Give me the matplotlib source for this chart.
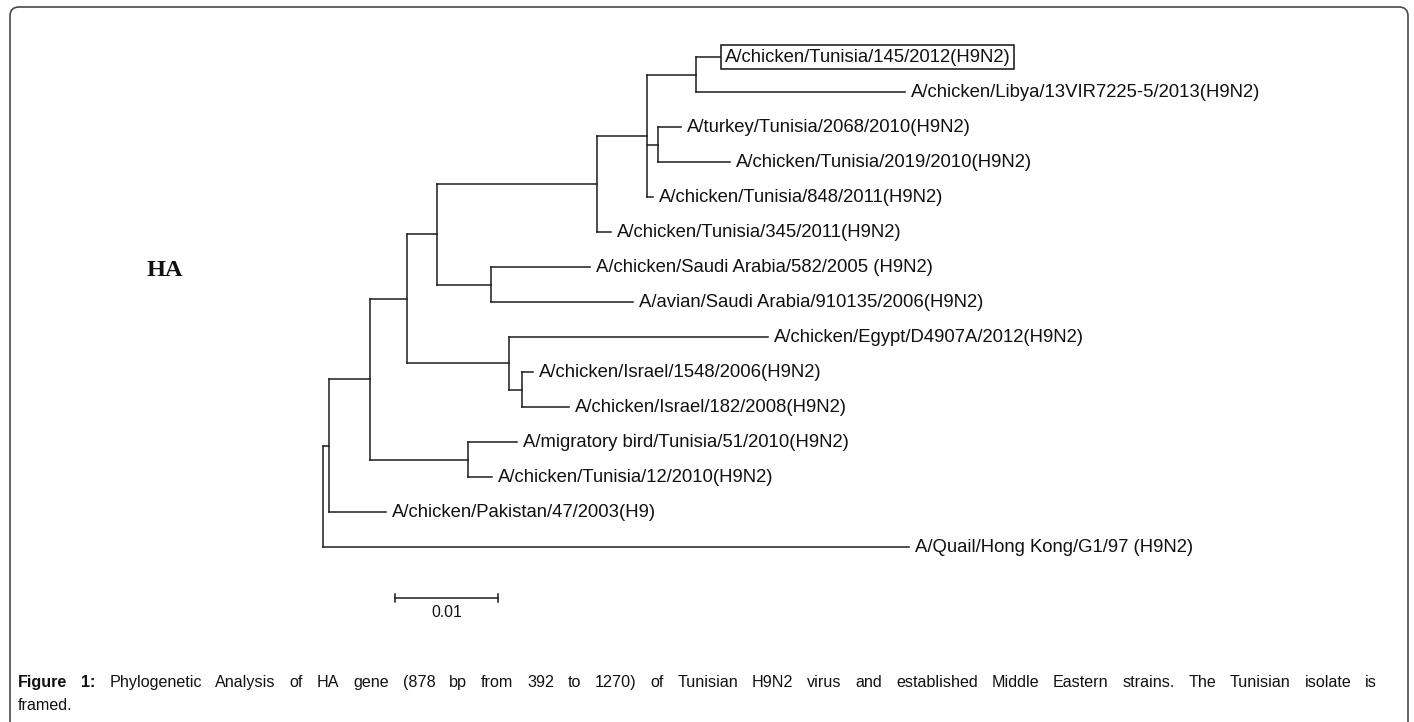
import matplotlib
matplotlib.use("Agg")
import matplotlib.pyplot as plt
from matplotlib.patches import FancyBboxPatch
from matplotlib.transforms import IdentityTransform
from matplotlib.collections import LineCollection

# ---------------- data ----------------
leaf_labels = [
    "A/chicken/Tunisia/145/2012(H9N2)",
    "A/chicken/Libya/13VIR7225-5/2013(H9N2)",
    "A/turkey/Tunisia/2068/2010(H9N2)",
    "A/chicken/Tunisia/2019/2010(H9N2)",
    "A/chicken/Tunisia/848/2011(H9N2)",
    "A/chicken/Tunisia/345/2011(H9N2)",
    "A/chicken/Saudi Arabia/582/2005 (H9N2)",
    "A/avian/Saudi Arabia/910135/2006(H9N2)",
    "A/chicken/Egypt/D4907A/2012(H9N2)",
    "A/chicken/Israel/1548/2006(H9N2)",
    "A/chicken/Israel/182/2008(H9N2)",
    "A/migratory bird/Tunisia/51/2010(H9N2)",
    "A/chicken/Tunisia/12/2010(H9N2)",
    "A/chicken/Pakistan/47/2003(H9)",
    "A/Quail/Hong Kong/G1/97 (H9N2)",
]
leaf_parent = ["N7", "N7", "N8", "N8", "N6", "N5", "Nsaudi", "Nsaudi",
               "Nisr", "Nisr2", "Nisr2", "Nmigr", "Nmigr", "N1", "root"]
leaf_branch = [0.00233, 0.02029, 0.00223, 0.00699, 0.00058, 0.00136, 0.00961,
               0.01379, 0.02515, 0.00107, 0.00456, 0.00476, 0.00233, 0.00553, 0.0569]

internal_nodes = ["N1", "N2", "N3", "N4", "N5", "N6", "N7", "N8",
                  "Nsaudi", "Nisr", "Nisr2", "Nmigr"]
internal_parent = ["root", "N1", "N2", "N3", "N4", "N5", "N6", "N6",
                   "N4", "N3", "Nisr", "N2"]
internal_branch = [0.00058, 0.00398, 0.00359, 0.00291, 0.01553, 0.00485,
                   0.00476, 0.00107, 0.00524, 0.0099, 0.00126, 0.00951]

framed_leaf = "A/chicken/Tunisia/145/2012(H9N2)"
scale_bar_length = 0.01
scale_bar_label = "0.01"
gene_label = "HA"
caption_bold = "Figure 1:"
caption_text = ("Phylogenetic Analysis of HA gene (878 bp from 392 to 1270) of Tunisian "
                "H9N2 virus and established Middle Eastern strains. The Tunisian isolate is")
caption_line2 = "framed."

# ---------------- layout ----------------
W, H = 1414, 722
PX_PER_UNIT = 10300.0
ROOT_PX = 323.0
ROW0 = 57.0
ROW_H = 35.0
LINE_COLOR = "#1c1c1c"
LW = 1.1
LABEL_FONT = "Liberation Sans"
LABEL_SIZE = 13.3

fig = plt.figure(figsize=(W / 100, H / 100), dpi=100)
fig.patch.set_facecolor("white")
ax = fig.add_axes([0, 0, 1, 1])
ax.axis("off")
ax.set_xlim(-ROOT_PX / PX_PER_UNIT, (W - ROOT_PX) / PX_PER_UNIT)
ax.set_ylim((H - ROW0) / ROW_H, -ROW0 / ROW_H)

# ---------------- tree geometry ----------------
parent = {}
blen = {}
for n, p, b in zip(leaf_labels, leaf_parent, leaf_branch):
    parent[n] = p
    blen[n] = b
for n, p, b in zip(internal_nodes, internal_parent, internal_branch):
    parent[n] = p
    blen[n] = b
children = {}
for n, p in parent.items():
    children.setdefault(p, []).append(n)

depth = {"root": 0.0}
def get_depth(n):
    if n not in depth:
        depth[n] = get_depth(parent[n]) + blen[n]
    return depth[n]
for n in parent:
    get_depth(n)

ypos = {lab: i for i, lab in enumerate(leaf_labels)}
def get_y(n):
    if n not in ypos:
        ys = [get_y(c) for c in children[n]]
        ypos[n] = (min(ys) + max(ys)) / 2.0
    return ypos[n]
get_y("root")

segs = []
for n, p in parent.items():
    segs.append([(depth[p], ypos[n]), (depth[n], ypos[n])])
for n, ch in children.items():
    ys = [ypos[c] for c in ch]
    segs.append([(depth[n], min(ys)), (depth[n], max(ys))])
ax.add_collection(LineCollection(segs, colors=LINE_COLOR, linewidths=LW,
                                 capstyle="projecting"))

# ---------------- leaf labels ----------------
for lab in leaf_labels:
    if lab == framed_leaf:
        ax.annotate(lab, (depth[lab], ypos[lab]), xytext=(3.4, 0),
                    textcoords="offset points", va="center", ha="left",
                    fontsize=LABEL_SIZE, family=LABEL_FONT, color="#111",
                    bbox=dict(boxstyle="square,pad=0.2", fc="none",
                              ec="#111", lw=1.1))
    else:
        ax.annotate(lab, (depth[lab], ypos[lab]), xytext=(4.5, 0),
                    textcoords="offset points", va="center", ha="left",
                    fontsize=LABEL_SIZE, family=LABEL_FONT, color="#111")

# ---------------- scale bar ----------------
sb_x0 = (395 - ROOT_PX) / PX_PER_UNIT
sb_y = (598 - ROW0) / ROW_H
tick = 4.0 / ROW_H
ax.plot([sb_x0, sb_x0 + scale_bar_length], [sb_y, sb_y], color=LINE_COLOR, lw=LW)
for xx in (sb_x0, sb_x0 + scale_bar_length):
    ax.plot([xx, xx], [sb_y - tick, sb_y + tick], color=LINE_COLOR, lw=LW)
ax.text(sb_x0 + scale_bar_length / 2, (612 - ROW0) / ROW_H, scale_bar_label,
        ha="center", va="center", fontsize=11.3, family=LABEL_FONT, color="#111")

# ---------------- gene label ----------------
fig.text(147 / W, 1 - 270 / H, gene_label, ha="left", va="center",
         fontsize=17.5, fontweight="bold", family="Liberation Serif", color="#111")

# ---------------- frame ----------------
frame = FancyBboxPatch((10, -40), 1398, (H - 7) + 40,
                       boxstyle="round,pad=0,rounding_size=9",
                       transform=IdentityTransform(), fill=False,
                       ec="#4a4a4a", lw=1.2)
fig.add_artist(frame)

# ---------------- caption (justified first line) ----------------
renderer = fig.canvas.get_renderer()
ident = IdentityTransform()
CAP_SIZE = 11.6
words = [(w, "bold") for w in caption_bold.split()] + \
        [(w, "normal") for w in caption_text.split()]
x_left, x_right = 18.0, 1377.0
base1 = H - 687.0
base2 = H - 710.5
arts = []
total = 0.0
for w, weight in words:
    t = fig.text(0, base1, w, transform=ident, fontsize=CAP_SIZE,
                 family=LABEL_FONT, fontweight=weight, va="baseline",
                 ha="left", color="#111")
    wd = t.get_window_extent(renderer).width
    arts.append((t, wd))
    total += wd
gap = (x_right - x_left - total) / (len(words) - 1)
x = x_left
for t, wd in arts:
    t.set_x(x)
    x += wd + gap
fig.text(x_left, base2, caption_line2, transform=ident, fontsize=CAP_SIZE,
         family=LABEL_FONT, va="baseline", ha="left", color="#111")

fig.savefig("out.png", dpi=100)
